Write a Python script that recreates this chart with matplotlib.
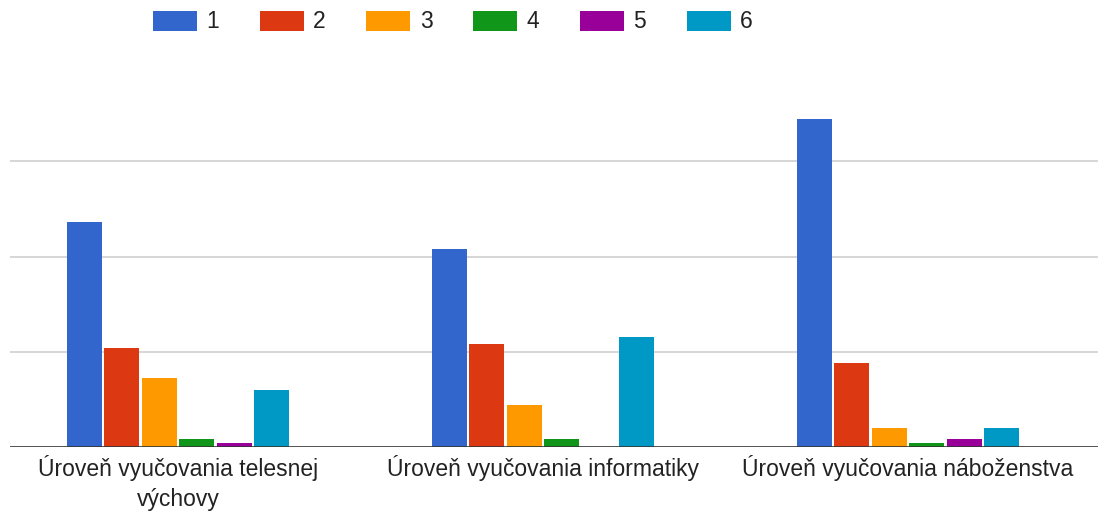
import matplotlib
matplotlib.use("Agg")
import matplotlib.pyplot as plt
import numpy as np

plt.rcParams['font.family'] = ['Liberation Sans', 'DejaVu Sans']

categories = ["Úroveň vyučovania telesnej\nvýchovy",
              "Úroveň vyučovania informatiky",
              "Úroveň vyučovania náboženstva"]
series_names = ["1", "2", "3", "4", "5", "6"]
values_1 = [59, 52, 86]
values_2 = [26, 27, 22]
values_3 = [18, 11, 5]
values_4 = [2, 2, 1]
values_5 = [1, 0, 2]
values_6 = [15, 29, 5]
series_values = [values_1, values_2, values_3, values_4, values_5, values_6]
colors = ["#3366cc", "#dc3912", "#ff9900", "#109618", "#990099", "#0099c6"]
yticks = [25, 50, 75]

W, H = 1098, 514
fig = plt.figure(figsize=(W / 100, H / 100), dpi=100)
ax_left, ax_right = 10, 1098
ax_bottom, ax_top = 447, 66
ax = fig.add_axes([ax_left / W, (H - ax_bottom) / H,
                   (ax_right - ax_left) / W, (ax_bottom - ax_top) / H])

x = np.arange(len(categories))
step = 0.1027
width = 0.096
n = len(series_values)
for i, (name, vals, c) in enumerate(zip(series_names, series_values, colors)):
    ax.bar(x + (i - (n - 1) / 2) * step, vals, width=width, color=c,
           label=name, zorder=3, linewidth=0)

# map: category 0 centre at px 178, spacing 365 px
px_per = 365.0
x0 = 178.0
ax.set_xlim((ax_left - x0) / px_per, (ax_right - x0) / px_per)
ax.set_ylim(0, 100)
ax.set_yticks(yticks)
ax.yaxis.grid(True, color="#cccccc", linewidth=1.1, zorder=0)
ax.tick_params(axis='y', left=False, labelleft=False)
ax.axhline(0, color="#333333", linewidth=1.9, zorder=4)
for s in ax.spines.values():
    s.set_visible(False)
ax.set_xticks(x)
ax.set_xticklabels(categories, fontsize=16.5, color="#222222", linespacing=1.4)
ax.tick_params(axis='x', length=0, pad=5.5)

fs_px = 16.5 / 72 * 100
leg = ax.legend(loc='center left', bbox_to_anchor=(153 / W, 1 - 22 / H),
                bbox_transform=fig.transFigure, ncol=6, frameon=False,
                fontsize=16.5, handlelength=44 / fs_px, handleheight=22 / fs_px,
                handletextpad=9.5 / fs_px, columnspacing=40.5 / fs_px,
                borderpad=0, borderaxespad=0)
for t in leg.get_texts():
    t.set_color("#222222")

fig.savefig("out.png", dpi=100)
